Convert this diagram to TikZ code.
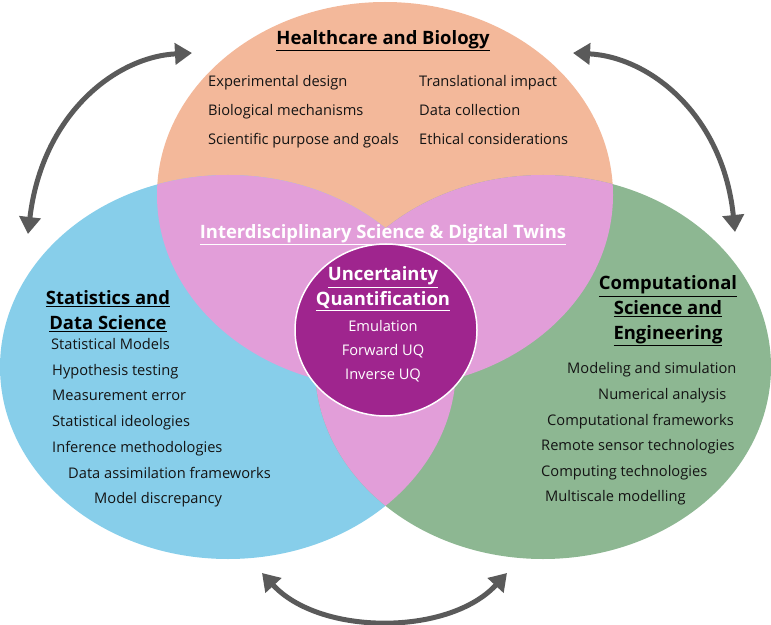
\documentclass[tikz,border=0pt]{standalone}
\usepackage{fontspec}
\setmainfont{Open Sans}
\usetikzlibrary{arrows.meta,shapes.geometric}
\definecolor{orangeC}{HTML}{F3B89A}
\definecolor{blueC}{HTML}{87CEEA}
\definecolor{greenC}{HTML}{8DB792}
\definecolor{pinkC}{HTML}{E29ED9}
\definecolor{purpleC}{HTML}{9F258E}
\definecolor{arrowC}{HTML}{5A5A5A}
\definecolor{textC}{HTML}{141414}
\tikzset{
  item/.style={anchor=west, inner sep=0pt, text=textC, font=\fontsize{14.7}{17}\selectfont, text height=0.72em, text depth=0.2em},
  ttl/.style={inner sep=0pt, text=black, font=\bfseries\fontsize{18.5}{25}\selectfont, align=center},
  uqtext/.style={inner sep=0pt, text=white, font=\fontsize{14.7}{17}\selectfont, text height=0.72em, text depth=0.2em},
  twoway/.style={draw=arrowC, line width=5bp, {Triangle[width=21bp,length=17bp]}-{Triangle[width=21bp,length=17bp]}}
}
\begin{document}
\begin{tikzpicture}[x=1bp,y=-1bp]
\useasboundingbox (0,0) rectangle (771,625);
% sets
\fill[orangeC] (385,195) ellipse [x radius=228bp, y radius=193bp];
\fill[blueC] (228,367) ellipse [x radius=228bp, y radius=192bp];
\fill[greenC] (543,367) ellipse [x radius=228bp, y radius=192bp];
% pairwise overlaps
\begin{scope}
  \clip (385,195) ellipse [x radius=228bp, y radius=193bp];
  \fill[pinkC] (228,367) ellipse [x radius=228bp, y radius=192bp];
  \fill[pinkC] (543,367) ellipse [x radius=228bp, y radius=192bp];
\end{scope}
\begin{scope}
  \clip (228,367) ellipse [x radius=228bp, y radius=192bp];
  \fill[pinkC] (543,367) ellipse [x radius=228bp, y radius=192bp];
\end{scope}
% UQ circle
\node[draw=white, line width=1.5bp, fill=purpleC, ellipse, minimum width=182bp, minimum height=172bp, inner sep=0pt] (uq) at (386,330) {};
\node[ttl, text=white] (uqt) at (383,289) {\underline{Uncertainty}\\\underline{Quantification}};
\node[uqtext] (em) at (383,329) {Emulation};
\node[uqtext] (fw) at (383,353) {Forward UQ};
\node[uqtext] (iv) at (383,377) {Inverse UQ};
% titles
\node[ttl] (hb) at (383,41) {\underline{Healthcare and Biology}};
\node[ttl] (sd) at (108,311) {\underline{Statistics and}\\\underline{Data Science}};
\node[ttl] (cs) at (668,311) {\underline{Computational}\\\underline{Science and}\\\underline{Engineering}};
\node[ttl, text=white] (ids) at (383,235) {\underline{Interdisciplinary Science \& Digital Twins}};
% healthcare items
\node[item] (h1) at (208,84) {Experimental design};
\node[item] (h2) at (208,113) {Biological mechanisms};
\node[item] (h3) at (208,142) {Scientific purpose and goals};
\node[item] (h4) at (419,84) {Translational impact};
\node[item] (h5) at (419,113) {Data collection};
\node[item] (h6) at (419,142) {Ethical considerations};
% statistics items
\node[item] (s1) at (51,347) {Statistical Models};
\node[item] (s2) at (52,373) {Hypothesis testing};
\node[item] (s3) at (52,398) {Measurement error};
\node[item] (s4) at (52,424) {Statistical ideologies};
\node[item] (s5) at (52,450) {Inference methodologies};
\node[item] (s6) at (68,476) {Data assimilation frameworks};
\node[item] (s7) at (94,501) {Model discrepancy};
% computational items
\node[item] (c1) at (567,371) {Modeling and simulation};
\node[item] (c2) at (598,397) {Numerical analysis};
\node[item] (c3) at (547,423) {Computational frameworks};
\node[item] (c4) at (541,448) {Remote sensor technologies};
\node[item] (c5) at (541,474) {Computing technologies};
\node[item] (c6) at (545,499) {Multiscale modelling};
% arrows
\coordinate (a1) at (192,53);
\coordinate (a2) at (28,234);
\coordinate (b1) at (573,53);
\coordinate (b2) at (735,232);
\coordinate (c1p) at (262,573);
\coordinate (c2p) at (507,573);
\draw[twoway] (a1) .. controls (115,57) and (42,115) .. (a2);
\draw[twoway] (b1) .. controls (650,57) and (723,115) .. (b2);
\draw[twoway] (c1p) .. controls (320,636) and (449,636) .. (c2p);
\end{tikzpicture}
\end{document}
